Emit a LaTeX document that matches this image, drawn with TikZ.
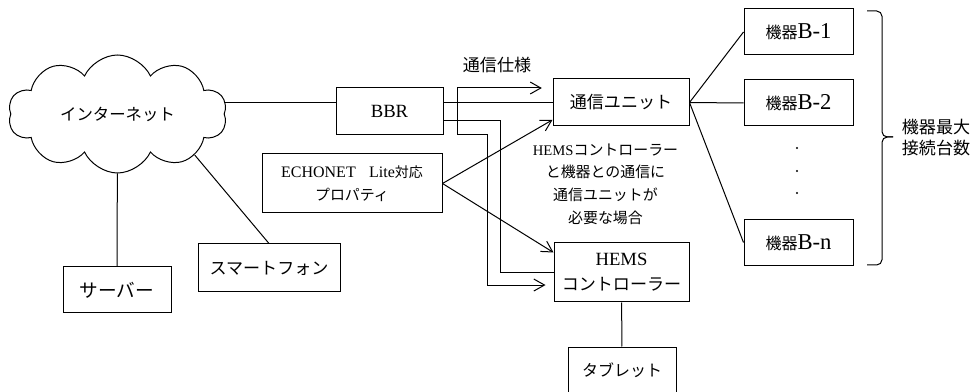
\documentclass[tikz,border=0pt]{standalone}
\usepackage{fontspec}
\setmainfont{Liberation Serif}
\newfontfamily\jp{Noto Sans CJK JP}
\usepackage{tikz}
\usetikzlibrary{shapes, arrows.meta}
\usetikzlibrary{positioning}

\newcommand{\kiki}[1]{{\jp\fontsize{12}{14}\selectfont 機器}{\fontsize{17}{20}\selectfont B-#1}}

\begin{document}
\begin{tikzpicture}[
        x=0.75pt, y=-0.75pt,
        line width=0.75pt,
        box/.style={draw, rectangle, inner sep=0pt, minimum width=81pt, minimum height=34.5pt},
        jtext/.style={font=\jp\fontsize{12.8}{15}\selectfont},
        arr/.style={-{Straight Barb[length=8pt, width=9pt]}}
    ]
    \useasboundingbox (0,0) rectangle (972,392);

    % internet side
    \node[cloud, draw, cloud puffs=10, cloud puff arc=130, aspect=1.86, inner sep=0pt,
          minimum width=164pt, minimum height=88.5pt,
          font=\jp\fontsize{12.3}{14}\selectfont] (net) at (117.5,114) {インターネット};
    \node[box, font=\jp\fontsize{14}{16}\selectfont] (server) at (117,290) {サーバー};
    \node[box, minimum width=106.5pt, minimum height=36pt, jtext] (phone) at (269,268) {スマートフォン};

    % home side
    \node[box, minimum width=80.25pt, minimum height=35.25pt, font=\fontsize{14}{16}\selectfont] (bbr) at (389.5,111.5) {BBR};
    \node[box, minimum width=102pt, minimum height=35.25pt, jtext] (unit) at (621,102.5) {通信ユニット};
    \node[box, minimum width=135pt, minimum height=44.25pt, align=center, font=\fontsize{12}{17}\selectfont] (prop) at (352,183.5)
        {ECHONET{\jp\fontsize{10}{17}\selectfont 　}Lite{\jp\fontsize{10.5}{17}\selectfont 対応}\\{\jp\fontsize{11.2}{17}\selectfont プロパティ}};
    \node[box, minimum width=101.25pt, minimum height=44.25pt, align=center, font=\fontsize{14}{19}\selectfont] (hems) at (621.5,272.5)
        {HEMS\\{\jp\fontsize{12.8}{19}\selectfont コントローラー}};
    \node[box, minimum width=81pt, minimum height=35.25pt, font=\jp\fontsize{12}{14}\selectfont] (tablet) at (622,370.5) {タブレット};
    \node[align=center, font=\jp\fontsize{11.2}{17}\selectfont] (note) at (605.5,184)
        {{\rmfamily\fontsize{11}{17}\selectfont HEMS}コントローラー\\と機器との通信に\\通信ユニットが\\必要な場合};

    % devices
    \node[box, minimum width=81.75pt] (b1) at (798.5,32) {\kiki{1}};
    \node[box, minimum width=81.75pt, below=18pt of b1] (b2) {\kiki{2}};
    \node[box, minimum width=81.75pt] (bn) at (798.5,242.5) {\kiki{n}};
    \foreach \y in {148,171,193}
        \fill (797,\y) circle (0.9pt);

    % connections
    \draw (net.east |- unit.west) -- (bbr.west |- unit.west);
    \draw (bbr.east |- unit.west) -- (unit.west);
    \draw (net) -- (server);
    \draw (net.-28) -- (phone.north);
    \draw (unit.east) -- (b1.west);
    \draw (unit.east) -- (b2.west);
    \draw (unit.east) -- (bn.west);
    \draw (hems) -- (tablet);
    \draw ([yshift=-7pt]bbr.east) -- ++(57,0) |- (hems.west);
    \draw[arr] (prop.east) -- ([yshift=5pt]unit.south west);
    \draw[arr] (prop.east) -- ([yshift=-7.5pt]hems.north west);

    % spec arrows
    \coordinate (spec) at (457,88);
    \node[jtext] (speclbl) at (497,65) {通信仕様};
    \draw[arr] (spec) -- ([xshift=-8pt]unit.west |- spec);
    \draw[arr] (spec) -- ++(0,47) -- ++(30,0) |- ([xshift=-6pt,yshift=-9.4pt]hems.west);

    % brace
    \draw[rounded corners=4pt] (867,11) -| (882,137) -- (893,137);
    \draw[rounded corners=4pt] (893,137) -- (882,137) |- (867,265);
    \node[align=left, font=\jp\fontsize{12.8}{15.5}\selectfont] (maxnum) at (936,137.5) {機器最大\\接続台数};
\end{tikzpicture}
\end{document}
